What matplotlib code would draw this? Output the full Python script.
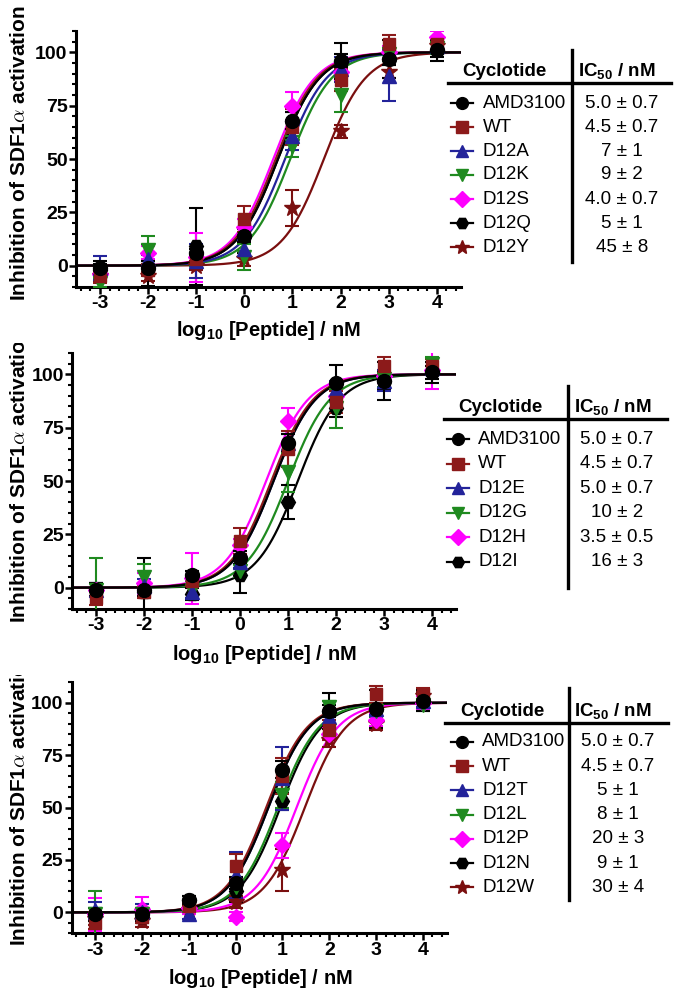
import numpy as np
import matplotlib
matplotlib.use("Agg")
import matplotlib.pyplot as plt
from matplotlib.lines import Line2D
from matplotlib.transforms import Bbox, TransformedBbox
from matplotlib.ticker import MultipleLocator

plt.rcParams['font.family'] = ['Liberation Sans', 'DejaVu Sans']
plt.rcParams['axes.unicode_minus'] = False
plt.rcParams['mathtext.fontset'] = 'custom'
plt.rcParams['mathtext.rm'] = 'Liberation Sans:bold'
plt.rcParams['mathtext.bf'] = 'Liberation Sans:bold'
plt.rcParams['mathtext.it'] = 'Liberation Sans:bold'

W, H = 684, 999

# ---- data ----
log_conc = [-3, -2, -1, 0, 1, 2, 3, 4]

amd_mean = [-1, -1, 6, 14, 68, 96, 97, 101]
amd_err = [3, 3, 2, 3, 4, 8.5, 9, 5]
wt_mean = [-5, -2, 3, 22, 65, 87, 104, 104]
wt_err = [3, 3, 2, 6, 8.5, 5, 4, 3]

# panel A
names_a = ["AMD3100", "WT", "D12A", "D12K", "D12S", "D12Q", "D12Y"]
ic50_a = [5.0, 4.5, 7, 9, 4.0, 5, 45]
ic50_text_a = ["5.0 \u00b1 0.7", "4.5 \u00b1 0.7", "7 \u00b1 1", "9 \u00b1 2",
               "4.0 \u00b1 0.7", "5 \u00b1 1", "45 \u00b1 8"]
mean_a = [amd_mean, wt_mean,
          [-1, 3, 2, 8, 61, 92, 89, 103],
          [-8, 7.5, 3, 4, 56, 80, 99, 102],
          [-4, 6, 4, 18, 75, 91, 100, 107],
          [-2, 0, 9, 14, 68, 96, 97, 101],
          [-5, -5, 0, 3, 27, 63, 91, 103]]
err_a = [amd_err, wt_err,
         [5.5, 2, 8, 4, 7, 6, 12, 3],
         [2, 6.5, 3, 6, 5, 8, 3, 3],
         [2, 3, 11.5, 4, 6.5, 4, 3, 3],
         [3, 9.5, 18, 8, 4, 3, 3, 3],
         [2, 2, 2, 3, 8.5, 3, 3, 2]]

# panel B
names_b = ["AMD3100", "WT", "D12E", "D12G", "D12H", "D12I"]
ic50_b = [5.0, 4.5, 5.0, 10, 3.5, 16]
ic50_text_b = ["5.0 \u00b1 0.7", "4.5 \u00b1 0.7", "5.0 \u00b1 0.7", "10 \u00b1 2",
               "3.5 \u00b1 0.5", "16 \u00b1 3"]
mean_b = [amd_mean, wt_mean,
          [-1, 1, -2, 12, 68, 93, 97, 103],
          [-1, 5, -1, 8, 54, 84, 98, 105],
          [-1, 2, 4.4, 20, 78, 90, 99, 102],
          [-1, -2, -3, 6, 40, 84, 97, 101]]
err_b = [amd_err, wt_err,
         [3, 3, 3, 3, 4, 4, 5, 3],
         [15, 6, 4, 3, 9, 9, 4, 3],
         [3, 5, 12, 3, 6, 3, 3, 9],
         [3, 16, 3, 8.3, 8, 4, 4, 3]]

# panel C
names_c = ["AMD3100", "WT", "D12T", "D12L", "D12P", "D12N", "D12W"]
ic50_c = [5.0, 4.5, 5, 8, 20, 9, 30]
ic50_text_c = ["5.0 \u00b1 0.7", "4.5 \u00b1 0.7", "5 \u00b1 1", "8 \u00b1 1",
               "20 \u00b1 3", "9 \u00b1 1", "30 \u00b1 4"]
mean_c = [amd_mean, wt_mean,
          [1, 0, -1, 18, 64, 93, 97, 101],
          [-1, -1, 3, 12, 56, 98, 96, 99],
          [-1, 1.5, 2, -2, 32, 85, 92, 100],
          [-1, -2, 6, 10, 53, 96, 97, 101],
          [-3, -4, 1, 5, 20, 82, 90, 103]]
err_c = [amd_err, wt_err,
         [4, 4, 2, 11, 15, 3, 3, 3],
         [11, 3, 3, 5, 6, 3, 3, 3],
         [8, 6, 3, 2, 6, 3, 3, 3],
         [3, 3, 2, 5, 4, 3, 3, 3],
         [3, 3, 2, 3, 10, 3, 3, 2]]

# styles (same order in every panel)
colors_a = ['black', '#8c1a1a', '#23239a', '#1f8a1f', '#ff00ff', 'black', '#7a0f0f']
markers_a = ['o', 's', '^', 'v', 'D', 'H', '*']
sizes_a = [10, 8.5, 10, 10, 8, 10, 12]
colors_b = colors_a[:6]
markers_b = markers_a[:6]
sizes_b = sizes_a[:6]


def fx(px):
    return px / W


def fy(py):
    return 1 - py / H


fig = plt.figure(figsize=(W / 100, H / 100), dpi=100)


def draw_panel(box, names, ic50, means, errs, colors, markers, sizes):
    left, right, top, bottom = box
    ax = fig.add_axes([fx(left), fy(bottom), (right - left) / W, (bottom - top) / H])
    xs = np.linspace(-3.5, 4.5, 400)
    n = len(names)
    for i in reversed(range(n)):
        curve = 100 / (1 + 10 ** (np.log10(ic50[i]) - xs))
        ax.plot(xs, curve, color=colors[i], lw=1.6, zorder=2)
    for i in reversed(range(n)):
        ax.errorbar(log_conc, means[i], yerr=errs[i], fmt=markers[i], color=colors[i],
                    ms=sizes[i], capsize=5, elinewidth=1.5, capthick=1.5, zorder=3)
    ax.set_xlim(-3.5, 4.5)
    ax.set_ylim(-10, 110)
    ax.set_xticks(log_conc)
    ax.set_yticks([0, 25, 50, 75, 100])
    ax.xaxis.set_minor_locator(MultipleLocator(0.2))
    ax.yaxis.set_minor_locator(MultipleLocator(5))
    ax.spines['top'].set_visible(False)
    ax.spines['right'].set_visible(False)
    ax.spines['left'].set_linewidth(2.2)
    ax.spines['bottom'].set_linewidth(2.2)
    ax.tick_params(which='major', length=5, width=1.8, labelsize=14, pad=1)
    ax.tick_params(which='minor', length=3, width=1.5)
    for lab in ax.get_xticklabels() + ax.get_yticklabels():
        lab.set_fontweight('bold')
    return ax


def draw_table(names, ic50_text, colors, markers, head_y, line_x0, line_x1, vline_x,
               vline_y0, vline_y1, name_x, val_x, mark_x, cyc_x, ic_x, row0, step):
    fig.text(fx(cyc_x), fy(head_y), "Cyclotide", fontsize=13.5, fontweight='bold',
             ha='center', va='center')
    fig.text(fx(ic_x), fy(head_y), "IC$_{50}$ / nM", fontsize=13.5, fontweight='bold',
             ha='center', va='center')
    fig.add_artist(Line2D([fx(line_x0), fx(line_x1)], [fy(head_y + 12), fy(head_y + 12)],
                          color='black', lw=2.4))
    fig.add_artist(Line2D([fx(vline_x), fx(vline_x)], [fy(vline_y0), fy(vline_y1)],
                          color='black', lw=2.4))
    for i in range(len(names)):
        y = row0 + step * i
        fig.add_artist(Line2D([fx(mark_x - 11), fx(mark_x + 11)], [fy(y), fy(y)],
                              color=colors[i], lw=1.6))
        fig.add_artist(Line2D([fx(mark_x)], [fy(y)], color=colors[i], marker=markers[i],
                              ms=8.5 if markers[i] != '*' else 10, lw=0))
        fig.text(fx(name_x), fy(y), names[i], fontsize=13.5, ha='left', va='center')
        fig.text(fx(val_x), fy(y), ic50_text[i], fontsize=13.5, ha='center', va='center')


def ylabel(cy, clip_top):
    t = fig.text(fx(20), fy(cy), r"Inhibition of SDF1$\alpha$ activation", fontsize=15,
                 fontweight='bold', rotation=90, ha='center', va='center',
                 math_fontfamily='cm')
    t.set_clip_box(TransformedBbox(Bbox([[0, 0], [1, fy(clip_top)]]), fig.transFigure))
    t.set_clip_on(True)


def xlabel(cx, cy):
    fig.text(fx(cx), fy(cy), r"log$_{10}$ [Peptide] / nM", fontsize=14.5,
             fontweight='bold', ha='center', va='center')


# panel A
draw_panel((75.9, 460.9, 31, 287), names_a, ic50_a, mean_a, err_a,
           colors_a, markers_a, sizes_a)
draw_table(names_a, ic50_text_a, colors_a, markers_a, 71, 448, 671, 572, 50, 262,
           483, 622, 462, 504, 617, 103, 24)
ylabel(153, 0)
xlabel(268, 331)

# panel B
draw_panel((72, 456, 353, 609), names_b, ic50_b, mean_b, err_b,
           colors_b, markers_b, sizes_b)
draw_table(names_b, ic50_text_b, colors_b, markers_b, 407, 444, 667, 568, 386, 588,
           478, 617, 458, 500, 613, 439, 24.6)
ylabel(475, 343)
xlabel(264, 655)

# panel C
draw_panel((71.6, 446.5, 681.8, 933.3), names_c, ic50_c, mean_c, err_c,
           colors_a, markers_a, sizes_a)
draw_table(names_c, ic50_text_c, colors_a, markers_a, 711, 445, 668, 569, 688, 900,
           482, 618, 462, 502, 613, 742, 24.2)
ylabel(798, 675)
xlabel(260, 978)

fig.savefig("out.png", dpi=100)
